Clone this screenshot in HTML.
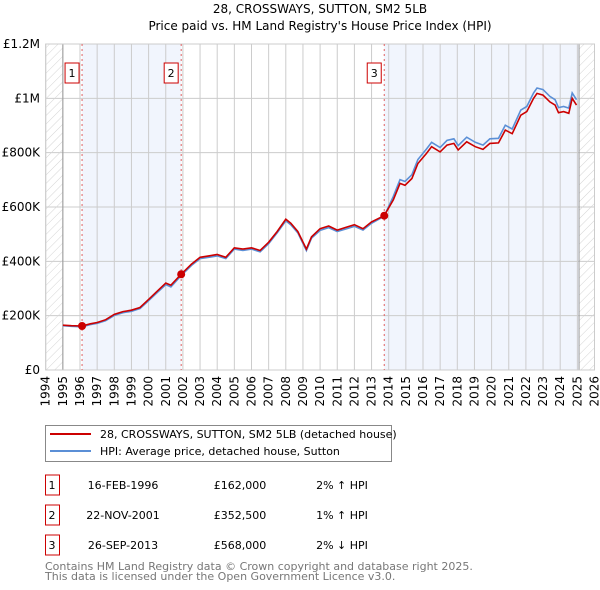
<!DOCTYPE html>
<html><head><meta charset="utf-8"><style>
body{margin:0;background:#fff}
svg{display:block;font-family:"DejaVu Sans","Liberation Sans",sans-serif}
</style></head><body>
<svg id="c" width="600" height="590" viewBox="0 0 600 590">
<defs><pattern id="hatch" width="6" height="6" patternUnits="userSpaceOnUse" patternTransform="rotate(45)"><line x1="0" y1="0" x2="0" y2="6" stroke="#d4d4d4" stroke-width="1"/></pattern></defs>
<text x="320" y="13" text-anchor="middle" font-size="12">28, CROSSWAYS, SUTTON, SM2 5LB</text>
<text x="320" y="30" text-anchor="middle" font-size="12">Price paid vs. HM Land Registry's House Price Index (HPI)</text>
<g id="plot"></g>
<g>
<rect x="45.5" y="425.5" width="346" height="36" fill="#fff" stroke="#888"/>
<line x1="50" y1="434" x2="91" y2="434" stroke="#cc0000" stroke-width="2"/>
<text x="100" y="438" font-size="11">28, CROSSWAYS, SUTTON, SM2 5LB (detached house)</text>
<line x1="50" y1="451" x2="91" y2="451" stroke="#5b8fd6" stroke-width="2"/>
<text x="100" y="455" font-size="11">HPI: Average price, detached house, Sutton</text>
</g>
<g id="table" font-size="11"></g>
<text x="45" y="570" font-size="11" fill="#777">Contains HM Land Registry data © Crown copyright and database right 2025.</text>
<text x="45" y="580" font-size="11" fill="#777">This data is licensed under the Open Government Licence v3.0.</text>
</svg>
<script>
const yearTicks=[1994,1995,1996,1997,1998,1999,2000,2001,2002,2003,2004,2005,2006,2007,2008,2009,2010,2011,2012,2013,2014,2015,2016,2017,2018,2019,2020,2021,2022,2023,2024,2025,2026];
const valueTicks=[0,200000,400000,600000,800000,1000000,1200000];
const valueTickLabels=["£0","£200K","£400K","£600K","£800K","£1M","£1.2M"];
const dates=[1995.0,1995.5,1996.12,1996.6,1997.0,1997.5,1998.0,1998.5,1999.0,1999.5,2000.0,2000.5,2001.0,2001.3,2001.9,2002.5,2003.0,2003.5,2004.0,2004.5,2005.0,2005.5,2006.0,2006.5,2007.0,2007.5,2008.0,2008.3,2008.7,2009.2,2009.5,2010.0,2010.5,2011.0,2011.5,2012.0,2012.5,2013.0,2013.74,2014.27,2014.66,2014.95,2015.35,2015.7,2016.2,2016.5,2017.0,2017.4,2017.8,2018.05,2018.55,2019.05,2019.5,2019.9,2020.4,2020.8,2021.2,2021.7,2022.05,2022.45,2022.65,2023.0,2023.4,2023.7,2023.9,2024.2,2024.5,2024.7,2024.95];
const pricePaid=[165000,163000,162000,170000,175000,185000,205000,215000,220000,230000,260000,290000,320000,312000,352500,390000,415000,420000,425000,415000,450000,445000,450000,440000,470000,510000,555000,540000,510000,445000,490000,520000,530000,515000,525000,535000,520000,545000,568000,626000,687000,680000,705000,760000,797000,822000,803000,828000,834000,810000,840000,822000,812000,834000,836000,883000,870000,938000,951000,1000000,1018000,1012000,987000,975000,947000,951000,945000,1000000,975000];
const hpi=[163000,161000,159000,167000,172000,182000,201000,211000,216000,226000,255000,285000,314000,306000,348000,385000,410000,415000,420000,410000,445000,440000,445000,435000,465000,505000,549000,534000,505000,440000,485000,514000,524000,510000,519000,529000,515000,540000,566000,639000,701000,694000,719000,775000,813000,838000,819000,845000,851000,826000,857000,838000,828000,851000,853000,901000,887000,957000,970000,1020000,1038000,1032000,1007000,995000,966000,970000,964000,1020000,995000];
const saleDates=[1996.12,2001.9,2013.74];
const salePrices=[162000,352500,568000];
const saleLabels=["1","2","3"];
const saleDateText=["16-FEB-1996","22-NOV-2001","26-SEP-2013"];
const salePriceText=["£162,000","£352,500","£568,000"];
const saleHpiText=["2% ↑ HPI","1% ↑ HPI","2% ↓ HPI"];

const NS="http://www.w3.org/2000/svg";
const X0=45.7,X1=594.5,Y0=370,Y1=44;
const xs=y=>X0+(y-1994)/(2026-1994)*(X1-X0);
const ys=v=>Y0-v/1200000*(Y0-Y1);
const plot=document.getElementById('plot');
function mk(tag,attrs,parent){const e=document.createElementNS(NS,tag);for(const k in attrs)e.setAttribute(k,attrs[k]);(parent||plot).appendChild(e);return e;}

let r;
r=mk('rect',{x:xs(saleDates[0]),y:Y1,width:xs(saleDates[1])-xs(saleDates[0]),height:Y0-Y1,fill:'#eef3fc',opacity:0.8});


r=mk('rect',{x:xs(saleDates[2]),y:Y1,width:xs(2025.1)-xs(saleDates[2]),height:Y0-Y1,fill:'#eef3fc',opacity:0.8});


yearTicks.forEach(y=>{const l=mk('line',{x1:xs(y),x2:xs(y),y1:Y1,y2:Y0,stroke:'#ccc'});

});
valueTicks.forEach(v=>{const l=mk('line',{x1:X0,x2:X1,y1:ys(v),y2:ys(v),stroke:'#ccc'});

});
r=mk('rect',{x:X0,y:Y1,width:xs(1995)-X0,height:Y0-Y1,fill:'url(#hatch)'});


r=mk('rect',{x:xs(2025.1),y:Y1,width:X1-xs(2025.1),height:Y0-Y1,fill:'url(#hatch)'});


mk('line',{x1:xs(1995),x2:xs(1995),y1:Y1,y2:Y0,stroke:'#999'});
mk('line',{x1:xs(2025.1),x2:xs(2025.1),y1:Y1,y2:Y0,stroke:'#999'});
r=mk('rect',{x:X0,y:Y1,width:X1-X0,height:Y0-Y1,fill:'none',stroke:'#ccc'});



saleDates.forEach((d,i)=>{
const l=mk('line',{x1:xs(d),x2:xs(d),y1:Y1,y2:Y0,stroke:'#e06060','stroke-dasharray':'2,3'});


const b=mk('rect',{x:xs(d)-17,y:63,width:14,height:20,fill:'#fff',stroke:'#cc0000'});


const t=mk('text',{x:xs(d)-10,y:77,'text-anchor':'middle','font-size':11});t.textContent=saleLabels[i];


});

const lineP=(arr)=>dates.map((d,i)=>(i?'L':'M')+xs(d).toFixed(1)+','+ys(arr[i]).toFixed(1)).join('');
let p=mk('path',{d:lineP(hpi),fill:'none',stroke:'#5b8fd6','stroke-width':1.6});


p=mk('path',{d:lineP(pricePaid),fill:'none',stroke:'#cc0000','stroke-width':1.6});


saleDates.forEach((d,i)=>{const c=mk('circle',{cx:xs(d),cy:ys(salePrices[i]),r:4,fill:'#cc0000'});

});

valueTicks.forEach((v,i)=>{const t=mk('text',{x:40,y:ys(v)+4,'text-anchor':'end','font-size':12});t.textContent=valueTickLabels[i];

});
yearTicks.forEach(y=>{const t=mk('text',{transform:`translate(${xs(y)+4},376) rotate(-90)`,'text-anchor':'end','font-size':12});t.textContent=y;

});

const tb=document.getElementById('table');
saleLabels.forEach((s,i)=>{const y=485+i*30;
const b=mk('rect',{x:45.5,y:y-10,width:14,height:20,fill:'#fff',stroke:'#cc0000'},tb);


const cells=[[52,s,'middle'],[123,saleDateText[i],'middle'],[240,salePriceText[i],'middle'],[342,saleHpiText[i],'middle']];
cells.forEach(c=>{const t=mk('text',{x:c[0],y:y+4,'text-anchor':c[2]},tb);t.textContent=c[1];

});
});
</script>
</body></html>
